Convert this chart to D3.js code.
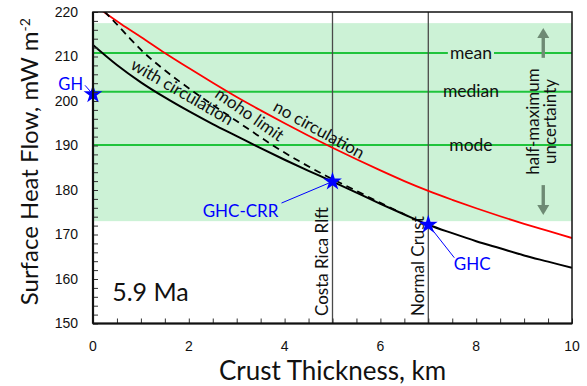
<!DOCTYPE html>
<html>
<head>
<meta charset="utf-8">
<script src="https://cdn.jsdelivr.net/npm/d3@7"></script>
<style>
  html, body { margin: 0; padding: 0; background: #fff; }
  svg { display: block; font-family: Lato, "Open Sans", sans-serif; }
</style>
</head>
<body>
<svg id="chart" width="587" height="386"></svg>
<script>
// Surface heat flow vs. crust thickness at 5.9 Ma
const xTicks = [0, 2, 4, 6, 8, 10];
const yTicks = [150, 160, 170, 180, 190, 200, 210, 220];

// [crust thickness km, heat flow mW m-2]
const noCirculation = [[0.2,220.2],[0.6,217.2],[1,214.4],[1.5,210.8],[2,207.4],[2.5,204.1],[3,200.9],[3.5,197.9],[4,195.0],[4.5,192.2],[5,189.5],[5.5,186.9],[6,184.4],[6.5,182.0],[7,179.8],[7.5,177.8],[8,175.9],[8.5,174.1],[9,172.4],[9.5,170.8],[10,169.2]];
const withCirculation = [[0,212.6],[0.5,208.1],[1,204.2],[1.5,200.8],[2,197.7],[2.5,194.8],[3,192.1],[3.5,189.4],[4,186.8],[4.5,184.3],[5,181.9],[5.5,179.4],[6,176.9],[6.5,174.5],[7,172.2],[7.5,170.3],[8,168.5],[8.5,166.9],[9,165.3],[9.5,163.9],[10,162.5]];
const mohoLimit = [[0.24,220.1],[0.5,217.2],[0.75,214.3],[1.05,211.0],[1.5,206.9],[2.1,202.1],[2.5,199.1],[2.86,196.5],[3.3,193.3],[3.73,190.2],[4.3,186.5],[4.88,183.1],[5.5,179.8],[6,177.1],[6.5,174.55]];

// Heat-flow statistics and half-maximum uncertainty band
const statNames = ["mean", "median", "mode"];
const statValues = [210.8, 202.1, 190.1];
const uncertaintyBand = [173.0, 217.5];

// Reference crust thicknesses
const refNames = ["Costa Rica Rlft", "Normal Crust"];
const refThickness = [5, 7];

// Observed points
const obsNames = ["GH", "GHC-CRR", "GHC"];
const obsThickness = [0, 5, 7];
const obsHeatFlow = [201.5, 181.9, 172.2];

const svg = d3.select("#chart");
const plotLeft = 93, plotRight = 572, plotTop = 12, plotBottom = 323.5;
const x = d3.scaleLinear().domain([0, 10]).range([plotLeft, plotRight]);
const y = d3.scaleLinear().domain([150, 220]).range([plotBottom, plotTop]);

const bandFill = "#ccf2d6";
const statGreen = "#1fc43c";
const ink = "#111";

svg.append("defs").append("clipPath").attr("id", "plotClip")
  .append("rect").attr("x", plotLeft).attr("y", plotTop)
  .attr("width", plotRight - plotLeft).attr("height", plotBottom - plotTop);

// uncertainty band
svg.append("rect")
  .attr("x", x(0)).attr("width", x(10) - x(0))
  .attr("y", y(uncertaintyBand[1])).attr("height", y(uncertaintyBand[0]) - y(uncertaintyBand[1]))
  .attr("fill", bandFill);

// statistic lines with labels
const statG = svg.append("g");
statValues.forEach((v, i) => {
  statG.append("line").attr("x1", x(0)).attr("x2", x(10))
    .attr("y1", y(v)).attr("y2", y(v))
    .attr("stroke", statGreen).attr("stroke-width", 2);
  const t = statG.append("text").attr("x", x(7.89)).attr("y", y(v))
    .attr("text-anchor", "middle").attr("dy", "0.33em")
    .attr("font-size", 17.5).attr("fill", ink).text(statNames[i]);
  const bb = t.node().getBBox();
  statG.insert("rect", "text").attr("x", bb.x - 2).attr("y", y(v) - 3)
    .attr("width", bb.width + 4).attr("height", 6).attr("fill", bandFill);
});

// reference thickness lines
refThickness.forEach((t, i) => {
  svg.append("line").attr("x1", x(t)).attr("x2", x(t))
    .attr("y1", y(220)).attr("y2", y(150))
    .attr("stroke", "#4a4a4a").attr("stroke-width", 1.3);
  svg.append("text")
    .attr("transform", `translate(${x(t) - 4.5},${y(150) - 7.5}) rotate(-90)`)
    .attr("font-size", 17).attr("fill", ink).text(refNames[i]);
});

// model curves
const line = d3.line().x(d => x(d[0])).y(d => y(d[1])).curve(d3.curveMonotoneX);
const curves = svg.append("g").attr("clip-path", "url(#plotClip)");
curves.append("path").datum(noCirculation).attr("d", line)
  .attr("fill", "none").attr("stroke", "#ff0000").attr("stroke-width", 1.8);
curves.append("path").datum(withCirculation).attr("d", line)
  .attr("fill", "none").attr("stroke", "#000").attr("stroke-width", 2);
curves.append("path").datum(mohoLimit).attr("d", line)
  .attr("fill", "none").attr("stroke", "#000").attr("stroke-width", 1.8)
  .attr("stroke-dasharray", "7,5");

// curve labels
const curveLabel = (txt, cx, cy, angle) => svg.append("text")
  .attr("transform", `translate(${x(cx)},${y(cy)}) rotate(${angle})`)
  .attr("text-anchor", "middle").attr("font-size", 17).attr("fill", ink).text(txt);
curveLabel("with circulation", 1.8, 200.9, 30);
curveLabel("moho limit", 3.2, 195.9, 35);
curveLabel("no circulation", 4.66, 192.4, 29);

// uncertainty annotation
const arrowColor = "#6e8a74";
const ax = x(9.4);
svg.append("text")
  .attr("transform", `translate(${ax},${y(195.4)}) rotate(-90)`)
  .attr("text-anchor", "middle").attr("font-size", 17).attr("fill", ink)
  .selectAll("tspan").data(["half-maximum", "uncertainty"]).join("tspan")
  .attr("x", 0).attr("y", (d, i) => i === 0 ? -4 : 13).text(d => d);
const arrow = (y0, y1) => {
  const dir = y1 > y0 ? 1 : -1;   // screen direction from tip back to shaft
  svg.append("line").attr("x1", ax).attr("x2", ax)
    .attr("y1", y(y0)).attr("y2", y(y1) + dir * 8)
    .attr("stroke", arrowColor).attr("stroke-width", 3.4);
  svg.append("path")
    .attr("d", `M${ax - 6},${y(y1) + dir * 10} L${ax + 6},${y(y1) + dir * 10} L${ax},${y(y1)} Z`)
    .attr("fill", arrowColor);
};
arrow(209.7, 216.4);
arrow(181.1, 174.4);

// observed points: connectors, stars, labels
const connectorEnds = [[-8, -9], [-51, 21.5], [26, 33]];
const textPos = [[-10, -4.5, "end"], [-92, 35, "middle"], [25.5, 45, "start"]];
const star = d3.symbol().type(d3.symbolStar).size(110);
obsNames.forEach((name, i) => {
  const px = x(obsThickness[i]), py = y(obsHeatFlow[i]);
  svg.append("line").attr("x1", px).attr("y1", py)
    .attr("x2", px + connectorEnds[i][0]).attr("y2", py + connectorEnds[i][1])
    .attr("stroke", "#0000ff").attr("stroke-width", 1);
  svg.append("path").attr("d", star).attr("transform", `translate(${px},${py})`).attr("fill", "#0000ff");
  svg.append("text")
    .attr("x", px + textPos[i][0]).attr("y", py + textPos[i][1])
    .attr("text-anchor", textPos[i][2])
    .attr("font-size", i === 0 ? 16.5 : 17).attr("fill", "#0000ff").text(name);
});

// age label
svg.append("text").attr("x", x(0.4)).attr("y", y(155.0))
  .attr("font-size", 25).attr("fill", ink).text("5.9 Ma");

// axes with inward ticks
const xAxisG = svg.append("g").attr("transform", `translate(0,${plotBottom})`);
xAxisG.call(d3.axisBottom(x).tickValues(d3.range(0, 10.01, 0.5)).tickSize(-5).tickFormat(""))
  .call(g => g.select(".domain").remove());
xAxisG.selectAll("line").attr("stroke", "#333");
xAxisG.selectAll(".lbl").data(xTicks).join("text").attr("class", "lbl")
  .attr("x", d => x(d)).attr("y", 27).attr("text-anchor", "middle")
  .attr("font-size", 14).attr("fill", ink).text(d => d);

const yAxisG = svg.append("g").attr("transform", `translate(${plotLeft},0)`);
yAxisG.call(d3.axisLeft(y).tickValues(d3.range(150, 220.01, 2)).tickSize(-5).tickFormat(""))
  .call(g => g.select(".domain").remove());
yAxisG.selectAll("line").attr("stroke", "#333");
yAxisG.selectAll(".lbl").data(yTicks).join("text").attr("class", "lbl")
  .attr("x", -15).attr("y", d => y(d)).attr("dy", "0.35em").attr("text-anchor", "end")
  .attr("font-size", 14).attr("fill", ink).text(d => d);

// frame
svg.append("rect").attr("x", plotLeft).attr("y", plotTop)
  .attr("width", plotRight - plotLeft).attr("height", plotBottom - plotTop)
  .attr("fill", "none").attr("stroke", ink).attr("stroke-width", 1.5);
svg.append("line").attr("x1", plotLeft).attr("x2", plotLeft).attr("y1", plotTop).attr("y2", plotBottom)
  .attr("stroke", ink).attr("stroke-width", 2.2);
svg.append("line").attr("x1", plotLeft).attr("x2", plotRight).attr("y1", plotBottom).attr("y2", plotBottom)
  .attr("stroke", ink).attr("stroke-width", 2.2);

// axis titles
svg.append("text").attr("x", (plotLeft + plotRight) / 2).attr("y", 380)
  .attr("text-anchor", "middle").attr("font-size", 26).attr("fill", ink)
  .text("Crust Thickness, km");
const yt = svg.append("text")
  .attr("transform", `translate(38,${(plotTop + plotBottom) / 2 - 6}) rotate(-90)`)
  .attr("text-anchor", "middle").attr("font-size", 24).attr("fill", ink);
yt.append("tspan").text("Surface Heat Flow, mW m");
yt.append("tspan").attr("dy", "-0.55em").attr("font-size", 14).text("-2");
</script>
</body>
</html>
